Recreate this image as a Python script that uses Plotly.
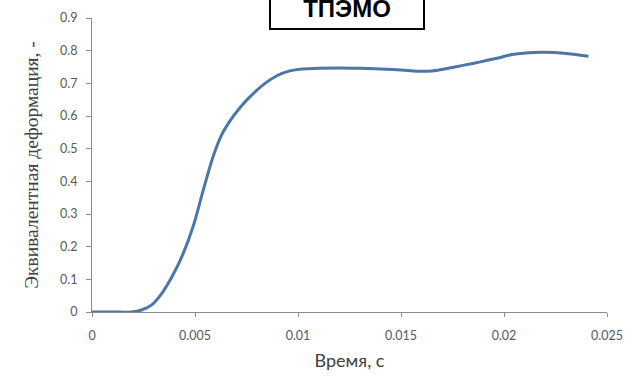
import plotly.graph_objects as go

# Equivalent strain vs. time
time_s = [0.0, 0.001, 0.0019, 0.0024, 0.0029, 0.0034, 0.0039, 0.0044, 0.0049,
          0.0054, 0.0059, 0.0063, 0.0067, 0.0072, 0.0078, 0.0084, 0.0090,
          0.0096, 0.0102, 0.0110, 0.0120, 0.013, 0.014, 0.015, 0.0158, 0.0165,
          0.0173, 0.018, 0.0188, 0.0196, 0.0204, 0.0212, 0.022, 0.0229, 0.0241]
strain = [0.0, 0.0, 0.0, 0.006, 0.022, 0.058, 0.11, 0.175, 0.26,
          0.373, 0.480, 0.543, 0.585, 0.627, 0.667, 0.700, 0.724,
          0.738, 0.744, 0.746, 0.747, 0.746, 0.744, 0.741, 0.737, 0.738,
          0.746, 0.755, 0.765, 0.776, 0.788, 0.794, 0.795, 0.792, 0.783]

x_ticks = [0, 0.005, 0.01, 0.015, 0.02, 0.025]
x_tick_text = ["0", "0.005", "0.01", "0.015", "0.02", "0.025"]
y_ticks = [0, 0.1, 0.2, 0.3, 0.4, 0.5, 0.6, 0.7, 0.8, 0.9]
y_tick_text = ["0", "0.1", "0.2", "0.3", "0.4", "0.5", "0.6", "0.7", "0.8", "0.9"]

title_text = "ТПЭМО"
x_title = "Время, с"
y_title = "Эквивалентная деформация, -"

axis_color = "#8c8c8c"
sans = "Lato, 'Open Sans', sans-serif"
tick_font = dict(family=sans, size=12.5, color="#595959")

fig = go.Figure()
fig.add_trace(go.Scatter(
    x=time_s, y=strain, mode="lines",
    line=dict(color="#4a76a8", width=3, shape="spline", smoothing=1.0),
    showlegend=False, hoverinfo="skip",
))

fig.update_layout(
    width=634, height=378,
    margin=dict(l=92, r=27, t=10, b=66),
    paper_bgcolor="white", plot_bgcolor="white",
    xaxis=dict(
        range=[0, 0.025], tickvals=x_ticks, ticktext=x_tick_text,
        showgrid=False, zeroline=False, showline=True, linecolor=axis_color,
        linewidth=1, ticks="outside", ticklen=4, tickcolor=axis_color,
        tickfont=tick_font, ticklabelstandoff=8,
        title=dict(text=x_title, standoff=12,
                   font=dict(family=sans, size=18, color="#404040")),
    ),
    yaxis=dict(
        range=[0, 0.9], tickvals=y_ticks, ticktext=y_tick_text,
        showgrid=False, zeroline=False, showline=True, linecolor=axis_color,
        linewidth=1, ticks="outside", ticklen=5, tickcolor=axis_color,
        tickfont=tick_font, ticklabelstandoff=6,
        title=dict(text=y_title, standoff=16,
                   font=dict(family="'Liberation Serif', serif", size=19.5, color="#404040")),
    ),
)

# Boxed header running off the top edge of the page
fig.add_annotation(
    text="<b>" + title_text + "</b>",
    xref="paper", yref="paper", x=0.495, y=(312 - 22) / 302,
    xanchor="center", yanchor="bottom", showarrow=False,
    font=dict(family="'Liberation Sans', Arial, sans-serif", size=24, color="black"),
    width=148, height=36, bordercolor="black", borderwidth=2, borderpad=2,
    bgcolor="white",
)

fig.write_html("out.html")
